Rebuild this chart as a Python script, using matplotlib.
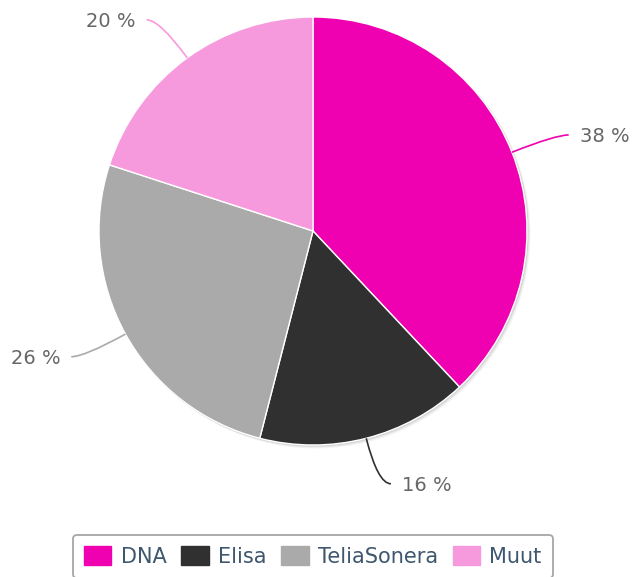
import numpy as np
import matplotlib.pyplot as plt
from matplotlib.patches import Patch
from matplotlib.path import Path
from matplotlib.patches import PathPatch

# Market share data
labels = ['DNA', 'Elisa', 'TeliaSonera', 'Muut']
shares = [38, 16, 26, 20]
colors = ['#ef00b0', '#303030', '#aaaaaa', '#f79add']

W, H = 633, 577
cx, cy, r = 313, H - 231, 214

fig = plt.figure(figsize=(W / 100, H / 100), dpi=100)
ax = fig.add_axes([0, 0, 1, 1])

# soft shadow behind the pie
for k, a in [(3, 0.04), (2, 0.06), (1, 0.08)]:
    ax.add_patch(plt.Circle((cx + k, cy - k), r + 0.5, color='black', alpha=a, lw=0, zorder=1))

wedges, _ = ax.pie(shares, colors=colors, startangle=90, counterclock=False,
                   center=(cx, cy), radius=r, frame=True,
                   wedgeprops=dict(edgecolor='white', linewidth=1, zorder=2))
ax.set_xlim(0, W)
ax.set_ylim(0, H)
ax.axis('off')

# data labels with curved connectors
total = sum(shares)
start = 90.0
for w, s, c in zip(wedges, shares, colors):
    mid = np.deg2rad(start - 360 * s / total / 2)
    start -= 360 * s / total
    ex, ey = cx + r * np.cos(mid), cy + r * np.sin(mid)
    side = 1 if np.cos(mid) >= 0 else -1
    # elbow point outside the pie, then a short horizontal run
    ox = cx + (r + 47) * np.cos(mid)
    oy = cy + (r + 47) * np.sin(mid)
    tx = ox + side * 13
    path = Path([(ex, ey), (ox, oy), (tx, oy)], [Path.MOVETO, Path.CURVE3, Path.CURVE3])
    ax.add_patch(PathPatch(path, fc='none', ec=c, lw=1.2, zorder=3))
    ax.text(tx + side * 11, oy - 2, f'{s} %', ha='left' if side > 0 else 'right',
            va='center', fontsize=14, color='#666666')

handles = [Patch(facecolor=c, edgecolor=c, label=l) for c, l in zip(colors, labels)]
leg = fig.legend(handles=handles, loc='upper center', ncol=4,
                 bbox_to_anchor=(313 / W, 1 - 535 / H), fontsize=15,
                 handlelength=1.3, handleheight=0.96, handletextpad=0.45,
                 columnspacing=0.72, borderpad=0.55, borderaxespad=0,
                 frameon=True, fancybox=True)
leg.get_frame().set_edgecolor('#909090')
leg.get_frame().set_linewidth(1.3)
for t in leg.get_texts():
    t.set_color('#3e576f')

fig.savefig('out.png', dpi=100)
